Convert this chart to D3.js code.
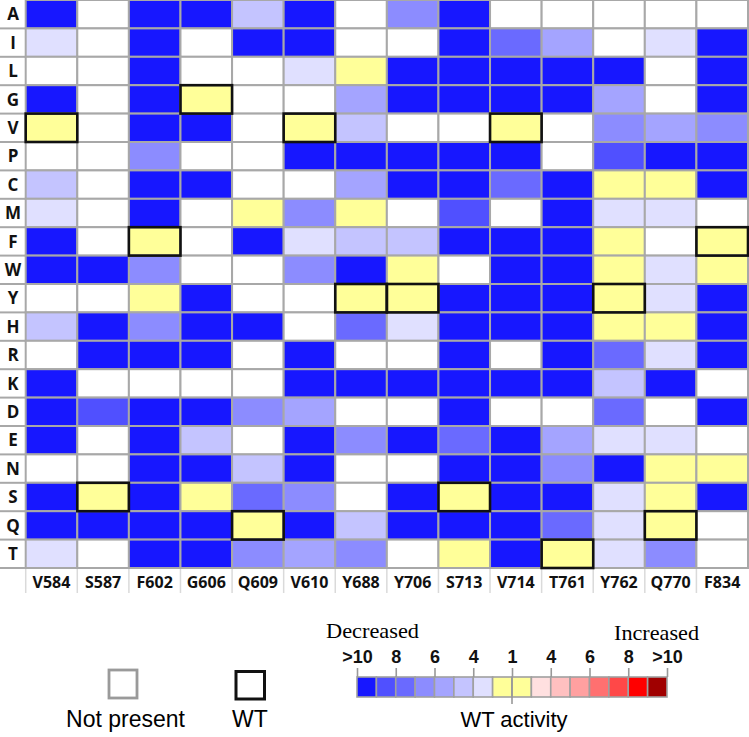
<!DOCTYPE html>
<html lang="en">
<head>
    <meta charset="UTF-8">
    <title>Mutant activity heatmap</title>
    <style>
        body {
            margin: 0;
            background: white;
        }
        .lab {
            font-family: "Open Sans", sans-serif;
            font-weight: bold;
            fill: #111;
        }
        .leg {
            font-family: "Liberation Sans", Arial, sans-serif;
        }
        .serif {
            font-family: "Liberation Serif", "Times New Roman", serif;
        }
    </style>
    <script src="https://d3js.org/d3.v7.min.js"></script>
</head>
<body>
    <div id="chart"></div>

    <script>
        // positions (columns) and substituted residues (rows)
        const positions = ["V584", "S587", "F602", "G606", "Q609", "V610", "Y688",
                           "Y706", "S713", "V714", "T761", "Y762", "Q770", "F834"];
        const residues = ["A", "I", "L", "G", "V", "P", "C", "M", "F", "W",
                          "Y", "H", "R", "K", "D", "E", "N", "S", "Q", "T"];

        // fold change vs WT: negative = decreased by that fold, 1 = WT-like, null = not present
        const activity = [
            [-10, null, -10, -10, -4.5, -10, null, -6.5, -10, null, null, null, null, null],   // A
            [-3, null, -10, null, -10, -10, null, null, -10, -7.5, -5.5, null, -3, -10],       // I
            [null, null, -10, null, null, -3, 1, -10, -10, -10, -10, -10, null, -10],          // L
            [-10, null, -10, 1, null, null, -5.5, -10, -10, -10, -10, -5.5, null, -10],        // G
            [1, null, -10, -10, null, 1, -4.5, null, null, 1, null, -6.5, -5.5, -6.5],         // V
            [null, null, -6.5, null, null, -10, -10, -10, -10, -10, null, -8.5, -10, -10],     // P
            [-4.5, null, -10, -10, null, null, -5.5, -10, -10, -7.5, -10, 1, 1, -10],          // C
            [-3, null, -10, null, 1, -6.5, 1, null, -8.5, null, -10, -3, -3, null],            // M
            [-10, null, 1, null, -10, -3, -4.5, -4.5, -10, -10, -10, 1, null, 1],              // F
            [-10, -10, -6.5, null, null, -6.5, -10, 1, null, -10, -10, 1, -3, 1],              // W
            [null, null, 1, -10, null, null, 1, 1, -10, -10, -10, 1, -3, -10],                 // Y
            [-4.5, -10, -6.5, -10, -10, null, -7.5, -3, -10, -10, -10, 1, 1, -10],             // H
            [null, -10, -10, -10, null, -10, null, null, -10, null, -10, -7.5, -3, -10],       // R
            [-10, null, null, null, null, -10, -10, -10, -10, -10, -10, -4.5, -10, null],      // K
            [-10, -8.5, -10, -10, -6.5, -5.5, null, null, -10, null, null, -7.5, null, -10],   // D
            [-10, null, -10, -4.5, null, -10, -6.5, -10, -7.5, -10, -5.5, -3, -3, null],       // E
            [null, null, -10, -10, -4.5, -10, null, null, -10, -10, -6.5, -10, 1, 1],          // N
            [-10, 1, -10, 1, -7.5, -6.5, null, -10, 1, -10, -10, -3, 1, -10],                  // S
            [-10, -10, -10, -10, 1, -10, -4.5, -10, -10, -10, -7.5, -3, 1, null],              // Q
            [-3, null, -10, -10, -6.5, -5.5, -6.5, null, 1, -10, 1, -3, -6.5, null]            // T
        ];

        // legend scale breaks and labels
        const foldBreaks = [-10, -8, -6, -4, 1, 4, 6, 8, 10];
        const tickLabels = [">10", "8", "6", "4", "1", "4", "6", "8", ">10"];

        const palette = ["#1717ff", "#5050ff", "#6a6aff", "#8c8cff", "#a4a4ff", "#c4c4ff", "#e0e0ff",
                         "#ffff99", "#ffff99",
                         "#ffe0e0", "#ffc0c0", "#ffa0a0", "#ff7070", "#ff4848", "#ff0000", "#a00000"];

        const width = 749, height = 737;
        const svg = d3.select("#chart").append("svg")
            .attr("width", width)
            .attr("height", height)
            .style("display", "block");

        svg.append("rect").attr("width", width).attr("height", height).attr("fill", "white");

        const x = d3.scaleBand().domain(positions).range([25.7, 748]);
        const y = d3.scaleBand().domain(residues).range([0, 568]);

        // fold -> position along the 16-step colour bar
        const bin = d3.scaleLinear()
            .domain(foldBreaks)
            .range(d3.range(0, 17, 2))
            .clamp(true);
        const colorOf = v => v == null ? "white" : palette[Math.min(15, Math.floor(bin(v)))];

        const cells = [];
        residues.forEach((r, i) => {
            positions.forEach((p, j) => {
                cells.push({ res: r, pos: p, value: activity[i][j], wt: p[0] === r });
            });
        });

        const grid = "#a8a8a8";

        // label column lines
        svg.selectAll("line.rowsep")
            .data(residues)
            .enter()
            .append("line")
            .attr("x1", 0)
            .attr("x2", x.range()[0])
            .attr("y1", d => y(d) + y.bandwidth())
            .attr("y2", d => y(d) + y.bandwidth())
            .attr("stroke", grid)
            .attr("stroke-width", 2);

        // column label row separators
        svg.selectAll("line.colsep")
            .data(positions)
            .enter()
            .append("line")
            .attr("x1", d => x(d))
            .attr("x2", d => x(d))
            .attr("y1", 568)
            .attr("y2", 593)
            .attr("stroke", "#dadada")
            .attr("stroke-width", 1.5);

        svg.selectAll("rect.cell")
            .data(cells)
            .enter()
            .append("rect")
            .attr("class", "cell")
            .attr("x", d => x(d.pos))
            .attr("y", d => y(d.res))
            .attr("width", x.bandwidth())
            .attr("height", y.bandwidth())
            .attr("fill", d => colorOf(d.value))
            .attr("stroke", grid)
            .attr("stroke-width", 2);

        svg.selectAll("rect.wt")
            .data(cells.filter(d => d.wt))
            .enter()
            .append("rect")
            .attr("x", d => x(d.pos))
            .attr("y", d => y(d.res))
            .attr("width", x.bandwidth())
            .attr("height", y.bandwidth())
            .attr("fill", "none")
            .attr("stroke", "#111")
            .attr("stroke-width", 2.6);

        svg.selectAll("text.row")
            .data(residues)
            .enter()
            .append("text")
            .attr("class", "lab")
            .attr("x", 13)
            .attr("y", d => y(d) + y.bandwidth() / 2)
            .attr("dy", "0.36em")
            .attr("text-anchor", "middle")
            .style("font-size", "17px")
            .text(d => d);

        svg.selectAll("text.col")
            .data(positions)
            .enter()
            .append("text")
            .attr("class", "lab")
            .attr("x", d => x(d) + x.bandwidth() / 2)
            .attr("y", 588)
            .attr("text-anchor", "middle")
            .style("font-size", "16px")
            .text(d => d);

        // legend: not present / WT
        svg.append("rect")
            .attr("x", 109).attr("y", 670).attr("width", 28).attr("height", 28)
            .attr("fill", "white").attr("stroke", "#9a9a9a").attr("stroke-width", 2.8);
        svg.append("text").attr("class", "leg")
            .attr("x", 125.5).attr("y", 727).attr("text-anchor", "middle")
            .style("font-size", "23px").text("Not present");

        svg.append("rect")
            .attr("x", 236).attr("y", 671.5).attr("width", 28.5).attr("height", 27.5)
            .attr("fill", "white").attr("stroke", "#111").attr("stroke-width", 3);
        svg.append("text").attr("class", "leg")
            .attr("x", 250).attr("y", 727).attr("text-anchor", "middle")
            .style("font-size", "23px").text("WT");

        // legend: colour bar
        const lx = d3.scaleLinear().domain([0, 16]).range([357, 667]);
        const barTop = 677, barH = 20;

        svg.selectAll("rect.swatch")
            .data(palette)
            .enter()
            .append("rect")
            .attr("x", (d, i) => lx(i))
            .attr("y", barTop)
            .attr("width", lx(1) - lx(0))
            .attr("height", barH)
            .attr("fill", d => d)
            .attr("stroke", "#a0a0a0")
            .attr("stroke-width", 1.6);

        const axis = d3.axisTop(lx)
            .tickValues(d3.range(0, 17, 2))
            .tickSize(9)
            .tickFormat((d, i) => tickLabels[i]);

        const ag = svg.append("g")
            .attr("transform", `translate(0,${barTop})`)
            .call(axis);
        ag.select(".domain").remove();
        ag.selectAll(".tick line").attr("stroke", "#999").attr("stroke-width", 1.6);
        ag.selectAll(".tick text")
            .attr("y", -14)
            .attr("fill", "#111")
            .style("font-family", "'Liberation Sans', Arial, sans-serif")
            .style("font-weight", "bold")
            .style("font-size", "18px");

        // WT tick runs through the bar
        svg.append("line")
            .attr("x1", lx(8)).attr("x2", lx(8))
            .attr("y1", barTop).attr("y2", 704)
            .attr("stroke", "#999").attr("stroke-width", 1.6);

        svg.append("text").attr("class", "serif")
            .attr("x", 326).attr("y", 638)
            .attr("textLength", 93).attr("lengthAdjust", "spacingAndGlyphs")
            .style("font-size", "21px").text("Decreased");
        svg.append("text").attr("class", "serif")
            .attr("x", 614).attr("y", 640)
            .attr("textLength", 85).attr("lengthAdjust", "spacingAndGlyphs")
            .style("font-size", "21px").text("Increased");

        svg.append("text").attr("class", "leg")
            .attr("x", lx(8) + 2).attr("y", 727).attr("text-anchor", "middle")
            .style("font-size", "22px").text("WT activity");
    </script>
</body>
</html>
